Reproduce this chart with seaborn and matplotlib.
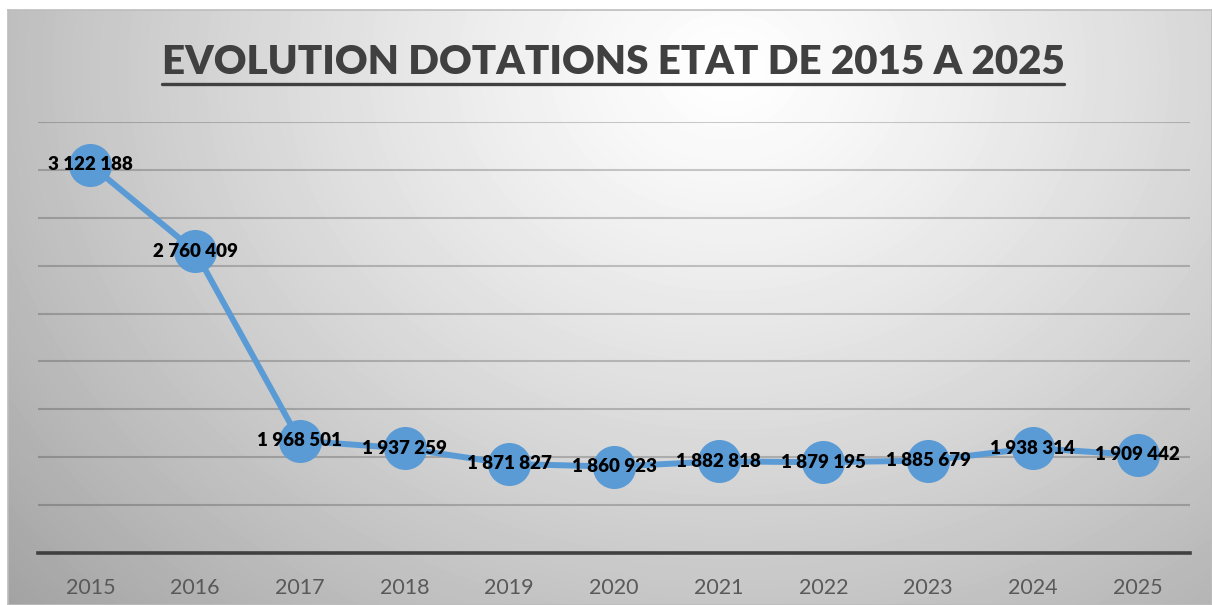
import numpy as np
import pandas as pd
import matplotlib.pyplot as plt
import seaborn as sns

# Données
annees = ['2015', '2016', '2017', '2018', '2019', '2020', '2021', '2022', '2023', '2024', '2025']
dotations = [3122188, 2760409, 1968501, 1937259, 1871827, 1860923, 1882818, 1879195, 1885679, 1938314, 1909442]
titre = 'EVOLUTION DOTATIONS ETAT DE 2015 A 2025'

df = pd.DataFrame({'Annee': annees, 'Dotation': dotations})

sns.set_style('white')
plt.rcParams['font.family'] = ['Lato', 'DejaVu Sans']

W, H = 1212, 605
fig = plt.figure(figsize=(W / 100, H / 100), dpi=100)
fig.patch.set_facecolor('white')

# Fond en dégradé radial
bg = fig.add_axes([8 / W, 0, (W - 8) / W, (H - 10) / H], zorder=-2)
yy, xx = np.mgrid[0:595, 0:1204]
r = np.sqrt(((xx - 720) / 760) ** 2 + ((yy - 60) / 620) ** 2)
grad = np.clip(1.0 - 0.27 * r ** 1.2, 0, 1)
bg.imshow(grad, cmap='gray', vmin=0, vmax=1, aspect='auto', interpolation='bilinear')
bg.set_xticks([])
bg.set_yticks([])
for s in bg.spines.values():
    s.set_color('#bdbdbd')
    s.set_linewidth(1.2)

# Zone du graphique
ax = fig.add_axes([38 / W, 52 / H, 1152 / W, 431 / H])
ax.patch.set_alpha(0)

sns.lineplot(data=df, x='Annee', y='Dotation', ax=ax, color='#5B9BD5',
             linewidth=4.3, marker='o', markersize=31, markeredgewidth=0, zorder=3)

ax.set_xlim(-0.5, len(annees) - 0.5)
ax.set_ylim(1500000, 3300000)
ax.set_yticks(np.arange(1500000, 3300001, 200000))
ax.yaxis.grid(True, color='black', alpha=0.2, linewidth=1.5)
ax.set_axisbelow(True)
ax.set_yticklabels([])
ax.tick_params(axis='y', length=0)
ax.tick_params(axis='x', length=0, labelsize=15.5, labelcolor='#595959', pad=18)
ax.set_xlabel('')
ax.set_ylabel('')
for s in ['top', 'right', 'left']:
    ax.spines[s].set_visible(False)
ax.spines['bottom'].set_color('#404040')
ax.spines['bottom'].set_linewidth(2.6)

# Étiquettes de données
for i, v in enumerate(dotations):
    ax.text(i, v, f'{v:,}'.replace(',', ' '), ha='center', va='center',
            fontsize=13.5, fontweight='heavy', color='black', zorder=5)

# Titre souligné
t = fig.text(613 / W, 1 - 63 / H, titre, ha='center', va='center',
             fontsize=29, fontweight='heavy', color='#404040')
fig.canvas.draw()
bb = t.get_window_extent()
fig.add_artist(plt.Line2D([bb.x0 / W, bb.x1 / W], [1 - 84 / H, 1 - 84 / H],
                          color='#404040', linewidth=2.4, transform=fig.transFigure))

fig.savefig('out.png', dpi=100)
